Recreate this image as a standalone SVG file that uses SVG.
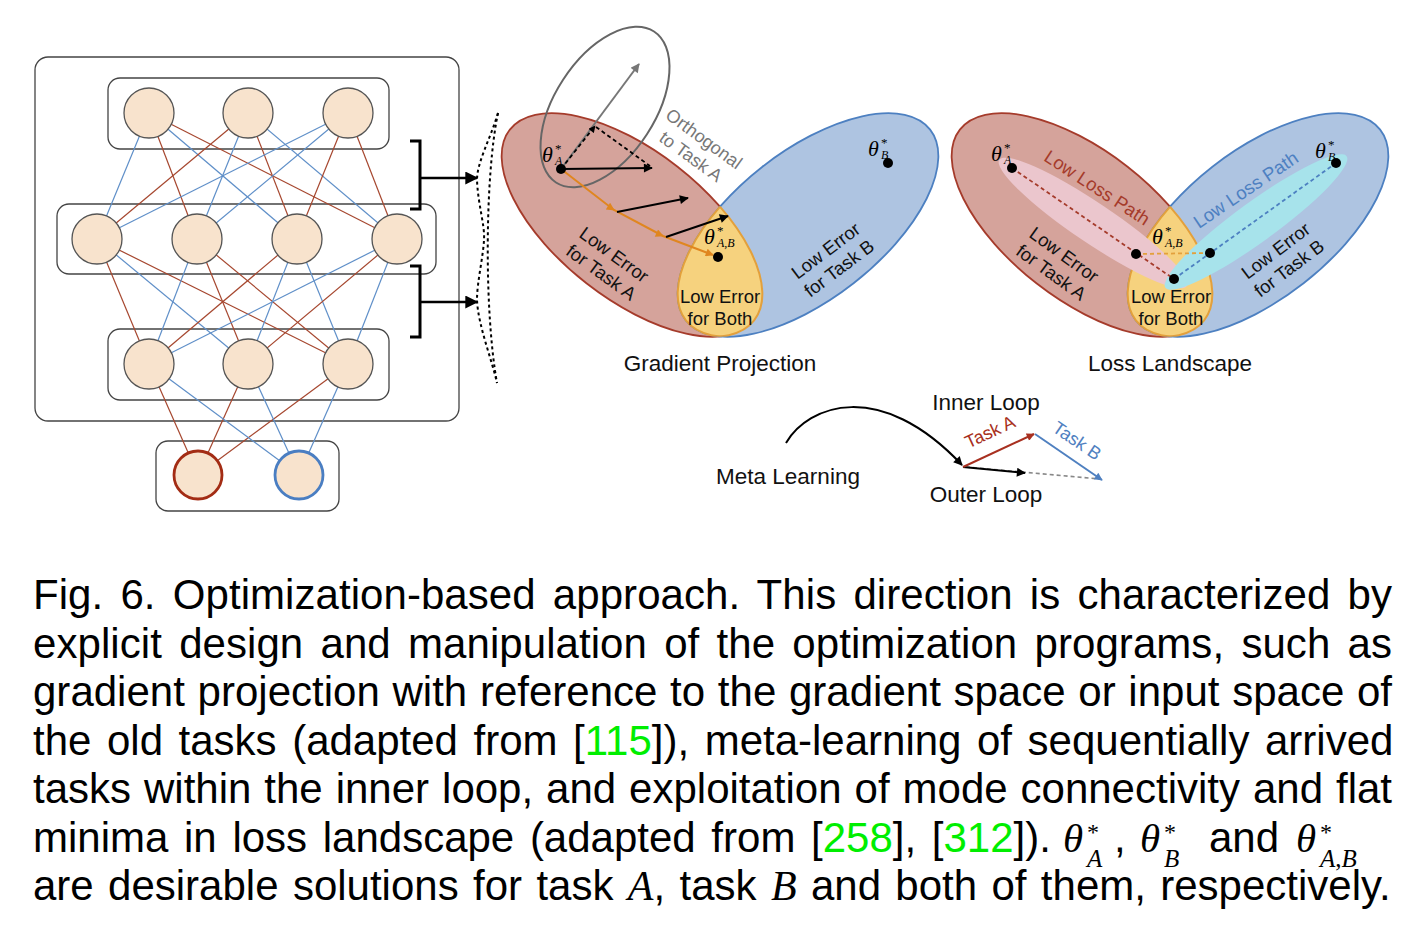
<svg xmlns="http://www.w3.org/2000/svg" width="1407" height="937" viewBox="0 0 1407 937">
<style>
.sans{font-family:"Liberation Sans",Arial,sans-serif}
.mi{font-family:"Liberation Serif","Times New Roman",serif;font-style:italic}
.mr{font-family:"Liberation Serif","Times New Roman",serif}
.box{fill:none;stroke:#444;stroke-width:1.3}
.nd{fill:#f8e3cd;stroke:#555;stroke-width:1.3}
.lr{stroke:#a6472f;stroke-width:1.2}
.lb{stroke:#5f8fc8;stroke-width:1.2}
.redE{fill:#d5a39b;stroke:#a53b2b;stroke-width:1.8}
.blueE{fill:#aec4e1;stroke:#4d80c1;stroke-width:1.8}
.yel{fill:#f6d27e;stroke:none}
.ors{fill:none;stroke:#e3a03c;stroke-width:2}
.dot{fill:#000}
.cap{font-family:"Liberation Sans",Arial,sans-serif;font-size:42px;fill:#000}
.lbl{font-family:"Liberation Sans",Arial,sans-serif;font-size:18.5px;fill:#111}
.ttl{font-family:"Liberation Sans",Arial,sans-serif;font-size:22.5px;fill:#111}
.grn{fill:#00ee00}
</style>
<defs>
<marker id="mk" viewBox="0 0 10 10" refX="9" refY="5" markerUnits="userSpaceOnUse" markerWidth="12" markerHeight="9" orient="auto"><path d="M0,0 L10,5 L0,10 z" fill="#000"/></marker>
<marker id="mkS" viewBox="0 0 10 10" refX="9" refY="5" markerUnits="userSpaceOnUse" markerWidth="8" markerHeight="7" orient="auto"><path d="M0,0 L10,5 L0,10 z" fill="#000"/></marker>
<marker id="mkBig" viewBox="0 0 10 10" refX="9" refY="5" markerUnits="userSpaceOnUse" markerWidth="16" markerHeight="13" orient="auto"><path d="M0,0 L10,5 L0,10 z" fill="#000"/></marker>
<marker id="mkGray" viewBox="0 0 10 10" refX="9" refY="5" markerUnits="userSpaceOnUse" markerWidth="12" markerHeight="9" orient="auto"><path d="M0,0 L10,5 L0,10 z" fill="#777"/></marker>
<marker id="mkOr" viewBox="0 0 10 10" refX="9" refY="5" markerUnits="userSpaceOnUse" markerWidth="10" markerHeight="8" orient="auto"><path d="M0,0 L10,5 L0,10 z" fill="#e0861f"/></marker>
<marker id="mkRed" viewBox="0 0 10 10" refX="9" refY="5" markerUnits="userSpaceOnUse" markerWidth="11" markerHeight="8" orient="auto"><path d="M0,0 L10,5 L0,10 z" fill="#a83020"/></marker>
<marker id="mkBlue" viewBox="0 0 10 10" refX="9" refY="5" markerUnits="userSpaceOnUse" markerWidth="11" markerHeight="8" orient="auto"><path d="M0,0 L10,5 L0,10 z" fill="#4f80c0"/></marker>
<clipPath id="cRedGP"><ellipse cx="632" cy="225" rx="155" ry="74" transform="rotate(38 632 225)"/></clipPath>
<clipPath id="cBlueGP"><ellipse cx="808" cy="225" rx="155" ry="74" transform="rotate(-38 808 225)"/></clipPath>
<clipPath id="cRedLL"><ellipse cx="1082" cy="225" rx="155" ry="74" transform="rotate(38 1082 225)"/></clipPath>
<clipPath id="cBlueLL"><ellipse cx="1258" cy="225" rx="155" ry="74" transform="rotate(-38 1258 225)"/></clipPath>
</defs>
<rect width="1407" height="937" fill="#fff"/>

<!-- Neural network -->
<g id="network">
<rect x="35" y="57" width="424" height="364" rx="13" fill="#fff" stroke="#444" stroke-width="1.3"/>
<rect class="box" x="108" y="78" width="281" height="71" rx="12"/>
<rect class="box" x="57" y="204" width="379" height="70" rx="12"/>
<rect class="box" x="108" y="329" width="281" height="71" rx="12"/>
<rect class="box" x="156" y="441" width="183" height="70" rx="12"/>
</g>
<g id="connectors">
<line class="lb" x1="149" y1="113" x2="97" y2="239"/>
<line class="lr" x1="149" y1="113" x2="197" y2="239"/>
<line class="lb" x1="149" y1="113" x2="297" y2="239"/>
<line class="lr" x1="149" y1="113" x2="397" y2="239"/>
<line class="lr" x1="248" y1="113" x2="97" y2="239"/>
<line class="lb" x1="248" y1="113" x2="197" y2="239"/>
<line class="lr" x1="248" y1="113" x2="297" y2="239"/>
<line class="lb" x1="248" y1="113" x2="397" y2="239"/>
<line class="lb" x1="348" y1="113" x2="97" y2="239"/>
<line class="lb" x1="348" y1="113" x2="197" y2="239"/>
<line class="lr" x1="348" y1="113" x2="297" y2="239"/>
<line class="lr" x1="348" y1="113" x2="397" y2="239"/>
<line class="lr" x1="97" y1="239" x2="149" y2="364"/>
<line class="lb" x1="97" y1="239" x2="248" y2="364"/>
<line class="lr" x1="97" y1="239" x2="348" y2="364"/>
<line class="lb" x1="197" y1="239" x2="149" y2="364"/>
<line class="lr" x1="197" y1="239" x2="248" y2="364"/>
<line class="lr" x1="197" y1="239" x2="348" y2="364"/>
<line class="lr" x1="297" y1="239" x2="149" y2="364"/>
<line class="lb" x1="297" y1="239" x2="248" y2="364"/>
<line class="lb" x1="297" y1="239" x2="348" y2="364"/>
<line class="lb" x1="397" y1="239" x2="149" y2="364"/>
<line class="lr" x1="397" y1="239" x2="248" y2="364"/>
<line class="lb" x1="397" y1="239" x2="348" y2="364"/>
<line class="lr" x1="149" y1="364" x2="198" y2="475"/>
<line class="lr" x1="248" y1="364" x2="198" y2="475"/>
<line class="lr" x1="348" y1="364" x2="198" y2="475"/>
<line class="lb" x1="149" y1="364" x2="299" y2="475"/>
<line class="lb" x1="248" y1="364" x2="299" y2="475"/>
<line class="lb" x1="348" y1="364" x2="299" y2="475"/>
<path d="M410,141 H420 V209 H410" fill="none" stroke="#000" stroke-width="3"/>
<line x1="420" y1="178" x2="477" y2="178" stroke="#000" stroke-width="2.5" marker-end="url(#mkBig)"/>
<path d="M410,266 H420 V337 H410" fill="none" stroke="#000" stroke-width="3"/>
<line x1="420" y1="302" x2="477" y2="302" stroke="#000" stroke-width="2.5" marker-end="url(#mkBig)"/>
<path d="M498,113 C490,140 477,162 477,180 C478,205 485,225 484,240 C483,258 477,282 477,300 C478,325 492,360 497,383" fill="none" stroke="#000" stroke-width="2" stroke-dasharray="3,3"/>
<path d="M498,113 C485,175 484,310 497,383" fill="none" stroke="#000" stroke-width="2" stroke-dasharray="3,3"/>
</g>
<g id="n-t1"><circle class="nd" cx="149" cy="113" r="25"/></g>
<g id="n-t2"><circle class="nd" cx="248" cy="113" r="25"/></g>
<g id="n-t3"><circle class="nd" cx="348" cy="113" r="25"/></g>
<g id="n-m1"><circle class="nd" cx="97" cy="239" r="25"/></g>
<g id="n-m2"><circle class="nd" cx="197" cy="239" r="25"/></g>
<g id="n-m3"><circle class="nd" cx="297" cy="239" r="25"/></g>
<g id="n-m4"><circle class="nd" cx="397" cy="239" r="25"/></g>
<g id="n-b1"><circle class="nd" cx="149" cy="364" r="25"/></g>
<g id="n-b2"><circle class="nd" cx="248" cy="364" r="25"/></g>
<g id="n-b3"><circle class="nd" cx="348" cy="364" r="25"/></g>
<g id="n-o1"><circle cx="198" cy="475" r="24" fill="#f8e3cd" stroke="#a32c14" stroke-width="2.8"/></g>
<g id="n-o2"><circle cx="299" cy="475" r="24" fill="#f8e3cd" stroke="#4a7ec2" stroke-width="2.8"/></g>

<!-- Gradient projection -->
<g id="gradient-projection">
<ellipse class="redE" cx="632" cy="225" rx="155" ry="74" transform="rotate(38 632 225)"/>
<ellipse class="blueE" cx="808" cy="225" rx="155" ry="74" transform="rotate(-38 808 225)"/>
<g clip-path="url(#cRedGP)"><ellipse class="yel" cx="808" cy="225" rx="155" ry="74" transform="rotate(-38 808 225)"/><ellipse class="ors" cx="808" cy="225" rx="155" ry="74" transform="rotate(-38 808 225)"/></g>
<g clip-path="url(#cBlueGP)"><ellipse class="ors" cx="632" cy="225" rx="155" ry="74" transform="rotate(38 632 225)"/></g>
<ellipse cx="605" cy="107" rx="90" ry="50" transform="rotate(-57 605 107)" fill="none" stroke="#666" stroke-width="2"/>
<line x1="561" y1="169" x2="639" y2="64" stroke="#777" stroke-width="2" marker-end="url(#mkGray)"/>
<line x1="561" y1="169" x2="595" y2="126" stroke="#000" stroke-width="1.8" stroke-dasharray="4,3" marker-end="url(#mkS)"/>
<line x1="596" y1="127" x2="650" y2="166" stroke="#000" stroke-width="1.8" stroke-dasharray="4,3"/>
<line x1="561" y1="169" x2="652" y2="168" stroke="#000" stroke-width="2" marker-end="url(#mk)"/>
<polyline points="561,169 614,210 663,236 713,255" fill="none" stroke="#e0861f" stroke-width="2" marker-mid="url(#mkOr)" marker-end="url(#mkOr)"/>
<line x1="617" y1="212" x2="688" y2="198" stroke="#000" stroke-width="2" marker-end="url(#mk)"/>
<line x1="666" y1="237" x2="728" y2="216" stroke="#000" stroke-width="2" marker-end="url(#mk)"/>
<circle class="dot" cx="561" cy="169" r="5"/>
<circle class="dot" cx="888" cy="163" r="5"/>
<circle class="dot" cx="718" cy="257" r="5"/>
<text class="mi" x="542" y="162" font-size="22">θ</text><text class="mr" x="555" y="153" font-size="13">*</text><text class="mi" x="555" y="165" font-size="12">A</text>
<text class="mi" x="868" y="156" font-size="22">θ</text><text class="mr" x="881" y="147" font-size="13">*</text><text class="mi" x="881" y="159" font-size="12">B</text>
<text class="mi" x="704" y="244" font-size="22">θ</text><text class="mr" x="717" y="235" font-size="13">*</text><text class="mi" x="717" y="247" font-size="12">A,B</text>
<g transform="translate(698,147) rotate(36)" fill="#777" class="sans" font-size="18" text-anchor="middle"><text y="-4">Orthogonal</text><text y="18">to Task A</text></g>
<g transform="translate(608,263) rotate(36)" text-anchor="middle"><text class="lbl" y="-4">Low Error</text><text class="lbl" y="18">for Task A</text></g>
<g transform="translate(832,259) rotate(-37)" text-anchor="middle"><text class="lbl" y="-4">Low Error</text><text class="lbl" y="18">for Task B</text></g>
<text class="lbl" x="720" y="303" text-anchor="middle">Low Error</text>
<text class="lbl" x="720" y="325" text-anchor="middle">for Both</text>
<text class="ttl" x="720" y="371" text-anchor="middle">Gradient Projection</text>
</g>

<!-- Loss landscape -->
<g id="loss-landscape">
<ellipse class="redE" cx="1082" cy="225" rx="155" ry="74" transform="rotate(38 1082 225)"/>
<ellipse class="blueE" cx="1258" cy="225" rx="155" ry="74" transform="rotate(-38 1258 225)"/>
<g clip-path="url(#cRedLL)"><ellipse class="yel" cx="1258" cy="225" rx="155" ry="74" transform="rotate(-38 1258 225)"/><ellipse class="ors" cx="1258" cy="225" rx="155" ry="74" transform="rotate(-38 1258 225)"/></g>
<g clip-path="url(#cBlueLL)"><ellipse class="ors" cx="1082" cy="225" rx="155" ry="74" transform="rotate(38 1082 225)"/></g>
<ellipse cx="1093" cy="223" rx="113" ry="20" transform="rotate(34 1093 223)" fill="#ebc6cd"/>
<ellipse cx="1256" cy="222" rx="112" ry="20" transform="rotate(-36 1256 222)" fill="#a7e3eb"/>
<line x1="1012" y1="168" x2="1174" y2="279" stroke="#a53b2b" stroke-width="1.8" stroke-dasharray="4,3"/>
<line x1="1174" y1="279" x2="1336" y2="163" stroke="#4d80c1" stroke-width="1.8" stroke-dasharray="4,3"/>
<line x1="1136" y1="254" x2="1210" y2="253" stroke="#e3a03c" stroke-width="1.8" stroke-dasharray="4,3"/>
<circle class="dot" cx="1012" cy="168" r="5"/>
<circle class="dot" cx="1136" cy="254" r="5"/>
<circle class="dot" cx="1210" cy="253" r="5"/>
<circle class="dot" cx="1174" cy="279" r="5"/>
<circle class="dot" cx="1336" cy="163" r="5"/>
<text class="mi" x="991" y="161" font-size="22">θ</text><text class="mr" x="1004" y="152" font-size="13">*</text><text class="mi" x="1004" y="164" font-size="12">A</text>
<text class="mi" x="1315" y="158" font-size="22">θ</text><text class="mr" x="1328" y="149" font-size="13">*</text><text class="mi" x="1328" y="161" font-size="12">B</text>
<text class="mi" x="1152" y="244" font-size="22">θ</text><text class="mr" x="1165" y="235" font-size="13">*</text><text class="mi" x="1165" y="247" font-size="12">A,B</text>
<g transform="translate(1097,188) rotate(33)" text-anchor="middle"><text class="sans" font-size="18.5" fill="#a53b2b" y="6">Low Loss Path</text></g>
<g transform="translate(1246,190) rotate(-34)" text-anchor="middle"><text class="sans" font-size="18.5" fill="#4d80c1" y="6">Low Loss Path</text></g>
<g transform="translate(1058,263) rotate(36)" text-anchor="middle"><text class="lbl" y="-4">Low Error</text><text class="lbl" y="18">for Task A</text></g>
<g transform="translate(1282,259) rotate(-37)" text-anchor="middle"><text class="lbl" y="-4">Low Error</text><text class="lbl" y="18">for Task B</text></g>
<text class="lbl" x="1171" y="303" text-anchor="middle">Low Error</text>
<text class="lbl" x="1171" y="325" text-anchor="middle">for Both</text>
<text class="ttl" x="1170" y="371" text-anchor="middle">Loss Landscape</text>
</g>

<!-- Meta learning -->
<g id="meta-learning">
<path d="M786,443 C808,405 880,378 962,465" fill="none" stroke="#000" stroke-width="2" marker-end="url(#mk)"/>
<line x1="966" y1="467" x2="1100" y2="479" stroke="#888" stroke-width="1.6" stroke-dasharray="4,3"/>
<line x1="963" y1="467" x2="1025" y2="473" stroke="#000" stroke-width="2" marker-end="url(#mk)"/>
<line x1="963" y1="467" x2="1034" y2="434" stroke="#a83020" stroke-width="2" marker-end="url(#mkRed)"/>
<line x1="1035" y1="434" x2="1102" y2="480" stroke="#4f80c0" stroke-width="2" marker-end="url(#mkBlue)"/>
<text class="ttl" x="986" y="410" text-anchor="middle">Inner Loop</text>
<text class="ttl" x="788" y="484" text-anchor="middle">Meta Learning</text>
<text class="ttl" x="986" y="502" text-anchor="middle">Outer Loop</text>
<g transform="translate(990,432) rotate(-25)" text-anchor="middle"><text class="sans" font-size="18" fill="#a83020" y="6">Task A</text></g>
<g transform="translate(1077,441) rotate(34)" text-anchor="middle"><text class="sans" font-size="18" fill="#4f80c0" y="6">Task B</text></g>
</g>

<!-- Caption -->
<g id="caption">
<text class="cap" x="33" y="609" word-spacing="5.5" textLength="1359" lengthAdjust="spacing">Fig. 6. Optimization-based approach. This direction is characterized by</text>
<text class="cap" x="33" y="658" word-spacing="5.5" textLength="1359" lengthAdjust="spacing">explicit design and manipulation of the optimization programs, such as</text>
<text class="cap" x="33" y="706" word-spacing="1" textLength="1359" lengthAdjust="spacing">gradient projection with reference to the gradient space or input space of</text>
<text class="cap" x="33" y="755" word-spacing="3.9">the old tasks (adapted from [<tspan class="grn">115</tspan>]), meta-learning of sequentially arrived</text>
<text class="cap" x="33" y="803" word-spacing="1.3" textLength="1359" lengthAdjust="spacing">tasks within the inner loop, and exploitation of mode connectivity and flat</text>
<text class="cap" x="33" y="852" word-spacing="4">minima in loss landscape (adapted from [<tspan class="grn">258</tspan>], [<tspan class="grn">312</tspan>]).</text>
<text class="mi" x="1063" y="852" font-size="41">θ</text><text class="mr" x="1087" y="840" font-size="24">*</text><text class="mi" x="1087" y="867" font-size="25">A</text>
<text class="cap" x="1114" y="852">,</text>
<text class="mi" x="1140" y="852" font-size="41">θ</text><text class="mr" x="1164" y="840" font-size="24">*</text><text class="mi" x="1164" y="867" font-size="25">B</text>
<text class="cap" x="1209" y="852">and</text>
<text class="mi" x="1296" y="852" font-size="41">θ</text><text class="mr" x="1320" y="840" font-size="24">*</text><text class="mi" x="1320" y="867" font-size="25">A<tspan class="mr" font-style="normal">,</tspan>B</text>
<text class="cap" x="33" y="900" word-spacing="2.7">are desirable solutions for task <tspan class="mi">A</tspan>, task <tspan class="mi">B</tspan> and both of them, respectively.</text>
</g>
</svg>
